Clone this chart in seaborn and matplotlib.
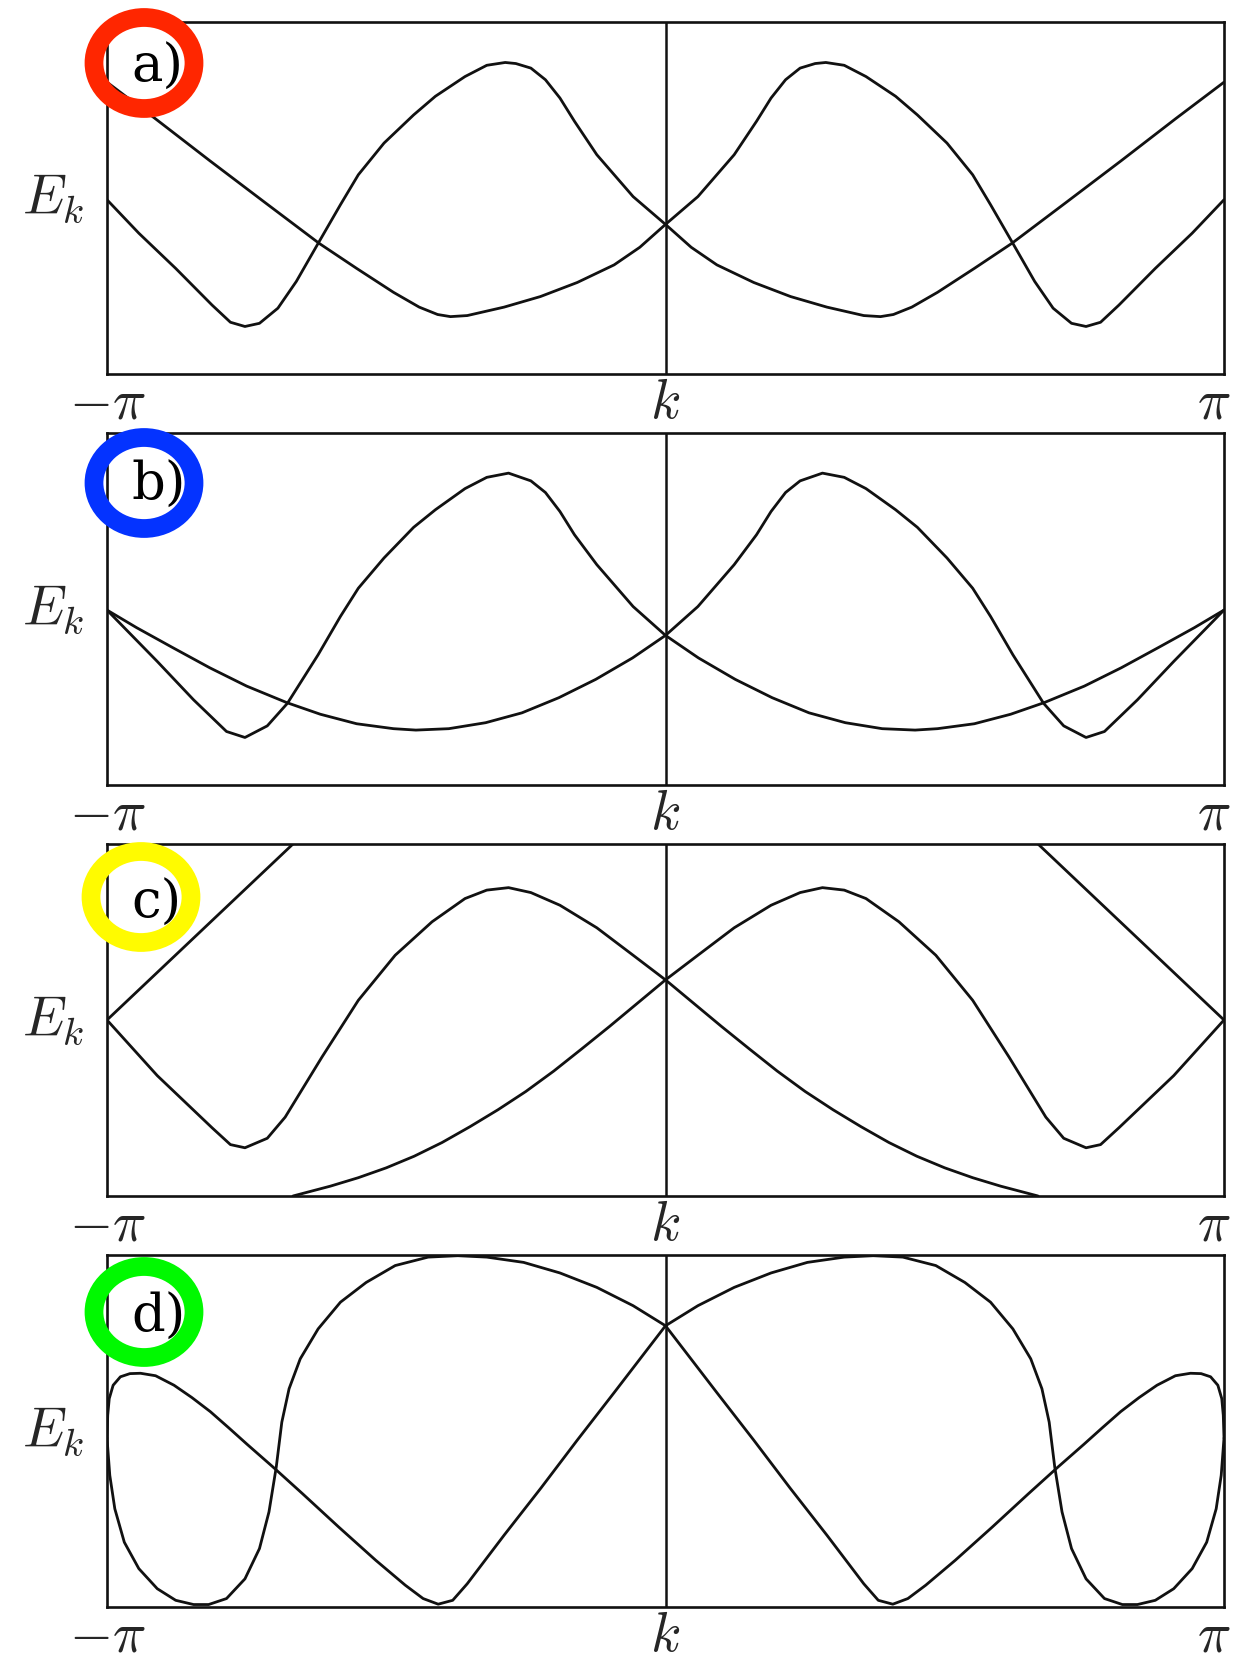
import numpy as np
import pandas as pd
import matplotlib
matplotlib.use("Agg")
import matplotlib.pyplot as plt
import matplotlib.transforms as mtransforms
from matplotlib.patches import Ellipse
import seaborn as sns

sns.set_theme(style="white")
plt.rcParams["font.family"] = ["DejaVu Serif", "DejaVu Sans"]
plt.rcParams["mathtext.fontset"] = "cm"

# ---------------------------------------------------------------------------
# Quasi-energy bands E(k), k in units of pi, E scaled to the window [0, 1].
# Only one band per panel is listed; its partner is the mirror image E(-k).
# ---------------------------------------------------------------------------

# (a)
a_k = [-1.000, -0.914, -0.816, -0.717, -0.620, -0.553, -0.487, -0.441, -0.408,
       -0.385, -0.355, -0.289, -0.224, -0.158, -0.092, -0.046, 0.000, 0.058,
       0.123, 0.163, 0.189, 0.215, 0.241, 0.268, 0.287, 0.320, 0.359, 0.412,
       0.451, 0.504, 0.550, 0.582, 0.622, 0.661, 0.694, 0.727, 0.753, 0.779,
       0.812, 0.877, 0.943, 1.000]
a_E = [0.829, 0.726, 0.606, 0.487, 0.371, 0.300, 0.232, 0.190, 0.169,
       0.163, 0.166, 0.190, 0.220, 0.260, 0.310, 0.360, 0.425, 0.504,
       0.623, 0.718, 0.784, 0.836, 0.869, 0.882, 0.885, 0.877, 0.845, 0.789,
       0.736, 0.656, 0.566, 0.481, 0.371, 0.263, 0.187, 0.144, 0.135, 0.147,
       0.196, 0.300, 0.400, 0.495]

# (b)
b_k = [-1.000, -0.947, -0.882, -0.816, -0.750, -0.678, -0.618, -0.553, -0.487,
       -0.447, -0.388, -0.322, -0.257, -0.191, -0.125, -0.059, 0.000, 0.058,
       0.123, 0.163, 0.189, 0.215, 0.241, 0.281, 0.320, 0.359, 0.412, 0.451,
       0.504, 0.550, 0.582, 0.622, 0.677, 0.713, 0.753, 0.786, 0.845, 0.910,
       1.000]
b_E = [0.497, 0.447, 0.390, 0.333, 0.281, 0.234, 0.201, 0.174, 0.160,
       0.156, 0.160, 0.177, 0.205, 0.248, 0.300, 0.361, 0.425, 0.507,
       0.626, 0.711, 0.777, 0.831, 0.864, 0.886, 0.874, 0.842, 0.782, 0.732,
       0.645, 0.559, 0.479, 0.370, 0.232, 0.168, 0.135, 0.152, 0.242, 0.351,
       0.497]

# (c) the band leaves the top of the window and re-enters at the bottom
c_top_k = [-1.000, -0.667]
c_top_E = [0.500, 1.000]
c_k = [-0.667, -0.600, -0.550, -0.500, -0.450, -0.400, -0.350, -0.300, -0.250,
       -0.200, -0.150, -0.100, -0.050, 0.000, 0.058, 0.123, 0.189, 0.241,
       0.281, 0.320, 0.359, 0.418, 0.484, 0.550, 0.615, 0.681, 0.713, 0.753,
       0.779, 0.812, 0.910, 1.000]
c_E = [0.000, 0.028, 0.052, 0.080, 0.113, 0.152, 0.197, 0.245, 0.297,
       0.355, 0.418, 0.482, 0.548, 0.614, 0.684, 0.762, 0.826, 0.862,
       0.876, 0.869, 0.845, 0.779, 0.684, 0.556, 0.395, 0.224, 0.164, 0.137,
       0.146, 0.194, 0.342, 0.500]

# (d)
d_k = [-1.000, -0.9987, -0.996, -0.989, -0.976, -0.959, -0.940, -0.913, -0.880,
       -0.848, -0.815, -0.782, -0.749, -0.703, -0.650, -0.585, -0.519, -0.466,
       -0.434, -0.407, -0.381, -0.355, -0.289, -0.223, -0.158, -0.092, -0.046,
       0.000, 0.058, 0.123, 0.189, 0.254, 0.320, 0.372, 0.425, 0.484, 0.536,
       0.582, 0.622, 0.654, 0.674, 0.687, 0.697, 0.710, 0.727, 0.753, 0.786,
       0.818, 0.845, 0.877, 0.910, 0.943, 0.969, 0.986, 0.995, 1.000]
d_E = [0.480, 0.545, 0.592, 0.630, 0.654, 0.663, 0.664, 0.657, 0.630,
       0.595, 0.555, 0.509, 0.462, 0.398, 0.322, 0.227, 0.133, 0.062,
       0.024, 0.008, 0.019, 0.066, 0.204, 0.338, 0.474, 0.609, 0.704,
       0.799, 0.856, 0.908, 0.949, 0.979, 0.994, 0.998, 0.994, 0.970, 0.922,
       0.866, 0.790, 0.705, 0.620, 0.525, 0.397, 0.270, 0.166, 0.080, 0.024,
       0.007, 0.007, 0.019, 0.052, 0.109, 0.184, 0.279, 0.374, 0.480]

panel_labels = ["a)", "b)", "c)", "d)"]
ring_colors = ["#FF2600", "#0433FF", "#FFFB00", "#00F900"]
tick_labels = [r"$-\pi$", r"$k$", r"$\pi$"]

panel_segments = [
    [(a_k, a_E)],
    [(b_k, b_E)],
    [(c_top_k, c_top_E), (c_k, c_E)],
    [(d_k, d_E)],
]


def bands_frame(segments):
    """One band and its mirror image as a long table with a curve id."""
    parts = []
    for i, (kk, ee) in enumerate(segments):
        kk = np.asarray(kk, dtype=float) * np.pi
        ee = np.asarray(ee, dtype=float)
        parts.append(pd.DataFrame({"k": kk, "E": ee, "curve": f"{i}p"}))
        parts.append(pd.DataFrame({"k": -kk, "E": ee, "curve": f"{i}m"}))
    return pd.concat(parts, ignore_index=True)


W, H = 1239, 1657
DPI = 100
fig = plt.figure(figsize=(W / DPI, H / DPI), dpi=DPI)

left_px, right_px = 107, 1224
tops_px = [22, 433, 844, 1255]
height_px = 352
ring_centers = [(144, 63), (144, 483), (141, 897), (144, 1312)]
label_baselines = [82, 500, 918, 1332]

for i, segs in enumerate(panel_segments):
    top = tops_px[i]
    ax = fig.add_axes([left_px / W, 1 - (top + height_px) / H,
                       (right_px - left_px) / W, height_px / H])
    df = bands_frame(segs)
    sns.lineplot(data=df, x="k", y="E", units="curve", estimator=None,
                 sort=False, color="#111111", linewidth=2.0, legend=False, ax=ax,
                 solid_joinstyle="round", solid_capstyle="round")
    ax.axvline(0, color="#111111", lw=1.8, zorder=1)

    ax.set_xlim(-np.pi, np.pi)
    ax.set_ylim(0, 1)
    ax.set_yticks([])
    ax.set_xticks([-np.pi, 0, np.pi])
    ax.set_xticklabels(tick_labels, fontsize=40)
    ax.tick_params(axis="x", length=0, pad=31.7)
    xt = ax.get_xticklabels()
    for lab in xt:
        lab.set_va("baseline")
    xt[-1].set_transform(xt[-1].get_transform() +
                         mtransforms.ScaledTranslation(-10 / DPI, 0, fig.dpi_scale_trans))
    ax.set_xlabel("")
    ax.set_ylabel(r"$E_k$", fontsize=40, rotation=0, ha="center", va="center")
    ax.yaxis.set_label_coords(-0.048, 0.5)
    for sp in ax.spines.values():
        sp.set_color("#111111")
        sp.set_linewidth(1.9)

    # panel tag with its coloured ring
    fig.text(131 / W, 1 - label_baselines[i] / H, panel_labels[i],
             ha="left", va="baseline", fontsize=38, family="DejaVu Serif",
             color="black", zorder=9)
    cx, cy = ring_centers[i]
    ring = Ellipse((cx / DPI, (H - cy) / DPI), width=1.00, height=0.91,
                   transform=fig.dpi_scale_trans, fill=False,
                   edgecolor=ring_colors[i], lw=13.5, zorder=10)
    fig.add_artist(ring)

fig.savefig("out.png", dpi=DPI, facecolor="white")
